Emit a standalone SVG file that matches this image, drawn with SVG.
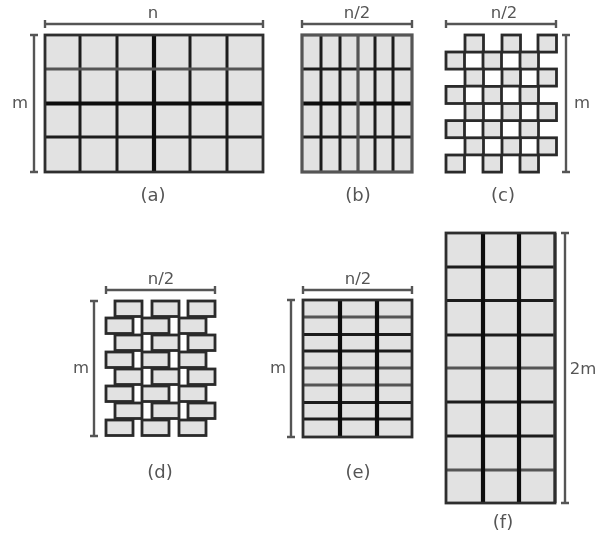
<svg xmlns="http://www.w3.org/2000/svg" width="598" height="537" viewBox="0 0 598 537">
<defs>
<filter id="soft" x="-5%" y="-5%" width="110%" height="110%"><feGaussianBlur stdDeviation="0.6"/></filter>
<g id="b18"><rect width="18.5" height="17.1"/></g>
<g id="b27"><rect width="27" height="15.5"/></g>
</defs>
<style>
text{font-family:"DejaVu Sans",sans-serif;font-size:16.5px;fill:#555;text-anchor:middle}
.cap{font-size:18px}
.bar{fill:none;stroke:#555;stroke-width:2.4}
.cell{fill:#e2e2e2;stroke:none}
.k{fill:none;stroke:#1c1c1c;stroke-width:3}
.K{fill:none;stroke:#0c0c0c;stroke-width:4.2}
.g{fill:none;stroke:#555;stroke-width:3.2}
.o{fill:none;stroke:#2e2e2e;stroke-width:2.8}
.c use,.d use{fill:#e2e2e2;stroke:#2a2a2a;stroke-width:2.8}
</style>
<rect width="598" height="537" fill="#fff"/>
<g filter="url(#soft)">
<g id="fig-a">
<rect class="cell" x="45" y="35" width="218" height="137"/>
<path class="k" d="M80 35V172M117 35V172M190 35V172M227 35V172M45 137H263"/>
<path class="K" d="M154 35V172M45 103.500H263"/>
<path class="g" d="M45 69H263"/>
<rect class="o" x="45" y="35" width="218" height="137"/>
<path class="bar" d="M45 24H263M45 20V28M263 20V28M34 35V172M30 35H38M30 172H38"/>
<text x="153" y="18">n</text><text x="20" y="108">m</text><text class="cap" x="153" y="201">(a)</text>
</g>
<g id="fig-b">
<rect class="cell" x="302" y="35" width="110" height="137"/>
<path class="k" d="M321 35V172M340 35V172M375 35V172M393 35V172M302 137H412M302 69H412"/>
<path class="K" d="M302 103.500H412"/>
<path class="g" d="M358 35V172"/>
<rect class="g" x="302" y="35" width="110" height="137"/>
<path class="bar" d="M302 24H412M302 20V28M412 20V28"/>
<text x="357" y="18">n/2</text><text class="cap" x="358" y="201">(b)</text>
</g>
<g id="fig-c" class="c">
<use href="#b18" x="465" y="35"/><use href="#b18" x="502" y="35"/><use href="#b18" x="538" y="35"/>
<use href="#b18" x="446" y="52"/><use href="#b18" x="483" y="52"/><use href="#b18" x="520" y="52"/>
<use href="#b18" x="465" y="69"/><use href="#b18" x="502" y="69"/><use href="#b18" x="538" y="69"/>
<use href="#b18" x="446" y="86.400"/><use href="#b18" x="483" y="86.400"/><use href="#b18" x="520" y="86.400"/>
<use href="#b18" x="465" y="103.500"/><use href="#b18" x="502" y="103.500"/><use href="#b18" x="538" y="103.500"/>
<use href="#b18" x="446" y="120.600"/><use href="#b18" x="483" y="120.600"/><use href="#b18" x="520" y="120.600"/>
<use href="#b18" x="465" y="137.800"/><use href="#b18" x="502" y="137.800"/><use href="#b18" x="538" y="137.800"/>
<use href="#b18" x="446" y="155"/><use href="#b18" x="483" y="155"/><use href="#b18" x="520" y="155"/>
<path class="bar" d="M446 24H556M446 20V28M556 20V28M566 35V172M562 35H570M562 172H570"/>
<text x="504" y="18">n/2</text><text x="582" y="108">m</text><text class="cap" x="503" y="201">(c)</text>
</g>
<g id="fig-d" class="d">
<use href="#b27" x="115" y="301"/><use href="#b27" x="152" y="301"/><use href="#b27" x="188" y="301"/>
<use href="#b27" x="106" y="318"/><use href="#b27" x="142" y="318"/><use href="#b27" x="179" y="318"/>
<use href="#b27" x="115" y="335"/><use href="#b27" x="152" y="335"/><use href="#b27" x="188" y="335"/>
<use href="#b27" x="106" y="352"/><use href="#b27" x="142" y="352"/><use href="#b27" x="179" y="352"/>
<use href="#b27" x="115" y="369"/><use href="#b27" x="152" y="369"/><use href="#b27" x="188" y="369"/>
<use href="#b27" x="106" y="386"/><use href="#b27" x="142" y="386"/><use href="#b27" x="179" y="386"/>
<use href="#b27" x="115" y="403"/><use href="#b27" x="152" y="403"/><use href="#b27" x="188" y="403"/>
<use href="#b27" x="106" y="420"/><use href="#b27" x="142" y="420"/><use href="#b27" x="179" y="420"/>
<path class="bar" d="M106 290H215M106 286V294M215 286V294M94 301V436M90 301H98M90 436H98"/>
<text x="161" y="284">n/2</text><text x="81" y="373">m</text><text class="cap" x="160" y="478">(d)</text>
</g>
<g id="fig-e">
<rect class="cell" x="303" y="300" width="109" height="137"/>
<path class="k" d="M303 334.500H412M303 351H412M303 402.500H412M303 419H412"/>
<path class="g" d="M303 317H412M303 368H412M303 385H412"/>
<path class="K" d="M340 300V437M377 300V437"/>
<rect class="o" x="303" y="300" width="109" height="137"/>
<path class="bar" d="M303 290H412M303 286V294M412 286V294M291 300V437M287 300H295M287 437H295"/>
<text x="358" y="284">n/2</text><text x="278" y="373">m</text><text class="cap" x="358" y="478">(e)</text>
</g>
<g id="fig-f">
<rect class="cell" x="446" y="233" width="109" height="270"/>
<path class="k" d="M446 267H555M446 300.500H555M446 335H555M446 402H555M446 436H555"/>
<path class="g" d="M446 368H555M446 470H555M555 233V503"/>
<path class="K" d="M483 233V503M519 233V503"/>
<rect class="o" x="446" y="233" width="109" height="270"/>
<path class="bar" d="M565 233V503M561 233H569M561 503H569"/>
<text x="583" y="374">2m</text><text class="cap" x="503" y="528">(f)</text>
</g>
</g>
</svg>
